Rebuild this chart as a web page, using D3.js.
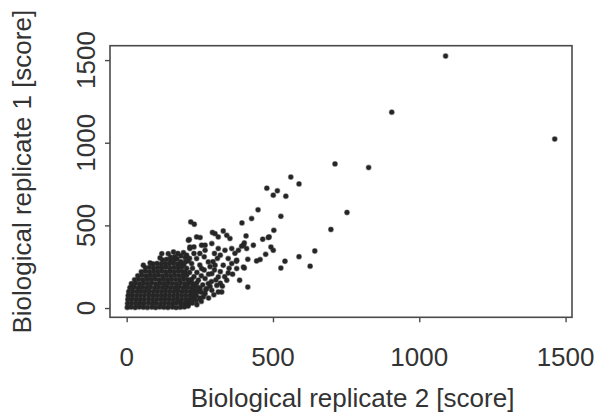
<!DOCTYPE html>
<html>
<head>
<meta charset="utf-8">
<script src="https://cdn.jsdelivr.net/npm/d3@7"></script>
<style>
  html, body { margin: 0; padding: 0; background: #fff; }
  svg { display: block; }
  text { font-family: "Liberation Sans", Arial, sans-serif; fill: #333; }
</style>
</head>
<body>
<svg id="chart" width="598" height="418"></svg>
<script>
// Axis ticks
const xTicks = [0, 500, 1000, 1500];
const yTicks = [0, 500, 1000, 1500];
const xTitle = "Biological replicate 2 [score]";
const yTitle = "Biological replicate 1 [score]";

// Dense core of the cloud: [replicate 2, replicate 1]
const coreScores = [
  [2,4],[15,6],[29,3],[43,7],[57,5],[71,4],[86,6],[99,3],[113,7],[127,5],[141,4],[156,6],[169,3],[183,5],[197,7],
  [3,27],[17,30],[31,26],[45,29],[59,28],[74,31],[88,26],[101,29],[116,27],[130,30],[144,28],[158,26],[171,31],[186,27],[200,29],[213,26],
  [4,51],[18,54],[32,50],[46,53],[60,52],[75,55],[89,50],[103,53],[117,51],[131,54],[145,52],[159,50],[173,55],[187,51],[201,53],[215,50],[227,54],
  [5,75],[19,78],[33,74],[47,77],[61,76],[76,79],[90,74],[104,77],[118,75],[132,78],[146,76],[160,74],[174,79],[188,75],[202,77],[216,74],[229,78],[238,75],
  [7,99],[21,102],[35,98],[49,101],[63,100],[77,103],[91,98],[105,101],[119,99],[133,102],[147,100],[161,98],[175,103],[189,99],[203,101],[217,98],[231,102],[243,99],
  [11,123],[25,126],[39,122],[53,125],[67,124],[81,127],[95,122],[109,125],[123,123],[137,126],[151,124],[165,122],[179,127],[193,123],[207,125],[221,122],[234,126],[246,123],
  [16,147],[30,150],[44,146],[58,149],[72,148],[86,151],[100,146],[114,149],[128,147],[142,150],[156,148],[170,146],[184,151],[198,147],[212,149],[226,146],[239,150],
  [27,171],[41,174],[55,170],[69,173],[83,172],[97,175],[111,170],[125,173],[139,171],[153,174],[167,172],[181,170],[195,175],[209,171],[222,173],
  [38,195],[52,198],[66,194],[80,197],[94,196],[108,199],[122,194],[136,197],[150,195],[164,198],[178,196],[192,194],[205,198],
  [50,219],[64,222],[78,218],[92,221],[106,220],[120,223],[134,218],[148,221],[162,219],[176,222],[190,220],[200,218],
  [64,243],[78,246],[92,242],[106,245],[120,244],[134,247],[148,242],[162,245],[176,243],[188,246],
  [90,267],[104,270],[118,266],[132,269],[146,268],[160,271],[174,266],[184,269],
  [122,291],[136,294],[150,290],[164,293],[172,297],
  [150,308],[165,311]
];

// Speckled fringe around the core
const fringeScores = [
  [57,259],[80,273],[114,303],[120,329],[142,329],[160,339],[194,335],[211,410],[216,360],[239,430],[256,380],[268,349],
  [291,390],[313,360],[336,349],[359,360],[370,331],[347,299],[359,269],[376,239],[362,205],[342,168],[327,132],
  [313,97],[325,97],[291,107],[268,87],[262,67],[302,259],[279,279],[256,239],[239,299],[222,269],[291,208],
  [268,178],[313,188],[330,259],[245,168],[279,148],[251,117],[228,87],[205,47],[182,36],[240,20],[255,40],[230,60],
  [219,521],[231,507],[214,414],[251,426],[268,380],[216,369],[399,380],[410,360],[376,289],[399,248],
  [347,212],[386,168],[273,117],[285,131],[308,137],
  [293,457],[302,450],[313,430],[330,466],[342,440],[353,420],
  [408,436],[487,430],[465,416],[402,394],[433,380],[393,374],[382,349],[493,369],[501,349],[475,325],
  [456,293],[444,285],[414,295],[375,283],[402,242],[414,127],[484,426],[503,470],
  [449,594],[427,541],[394,515],[479,725],[515,709],[501,683],
  [210,12],[225,30],[238,45],[250,60],[205,140],[218,160],[230,190],[215,215],[205,240],[195,260],
  [210,285],[225,240],[240,215],[255,195],[250,260],[265,230],[280,205],[285,250],[300,230],[295,280],
  [310,300],[320,220],[305,170],[290,160],[260,140],[270,110],[255,95],[280,60],[298,80],[320,150],
  [335,190],[350,240],[320,320],[300,330],[265,310],[250,330],[175,330],[185,315],[200,305],[205,320],
  [230,330],[230,370],[185,280],[200,278],[215,300]
];

// Isolated high-score points
const outlierScores = [
  [527,242],[541,283],[627,253],[589,311],[643,345],[698,475],[753,578],[527,555],
  [544,677],[589,751],[561,792],[712,872],[827,850],[906,1185],[1090,1524],[1463,1022]
];

const allScores = coreScores.concat(fringeScores, outlierScores);

const svg = d3.select("#chart");
const box = { left: 110, right: 572, top: 45.7, bottom: 317.3 };

const x = d3.scaleLinear().domain([-57, 1522]).range([box.left, box.right]);
const y = d3.scaleLinear().domain([-56, 1587]).range([box.bottom, box.top]);

// points
svg.append("g")
  .selectAll("circle")
  .data(allScores)
  .join("circle")
  .attr("cx", d => x(d[0]))
  .attr("cy", d => y(d[1]))
  .attr("r", 2.4)
  .attr("fill", "#262626")
  .attr("stroke", "rgba(40,40,40,0.45)")
  .attr("stroke-width", 1.2);

// frame
svg.append("rect")
  .attr("x", box.left).attr("y", box.top)
  .attr("width", box.right - box.left).attr("height", box.bottom - box.top)
  .attr("fill", "none").attr("stroke", "#4a4a4a").attr("stroke-width", 1.6);

// axes (ticks only, labels drawn separately to mimic R)
const xAxis = svg.append("g")
  .attr("transform", `translate(0,${box.bottom})`)
  .call(d3.axisBottom(x).tickValues(xTicks).tickSize(5).tickFormat(""));
xAxis.select(".domain").remove();
xAxis.selectAll("line").attr("stroke", "#4a4a4a").attr("stroke-width", 1.4);

const yAxis = svg.append("g")
  .attr("transform", `translate(${box.left},0)`)
  .call(d3.axisLeft(y).tickValues(yTicks).tickSize(5).tickFormat(""));
yAxis.select(".domain").remove();
yAxis.selectAll("line").attr("stroke", "#4a4a4a").attr("stroke-width", 1.4);

// tick labels
svg.append("g").selectAll("text")
  .data(xTicks)
  .join("text")
  .attr("x", d => x(d))
  .attr("y", 366)
  .attr("text-anchor", "middle")
  .attr("font-size", 26)
  .text(d => d);

svg.append("g").selectAll("text")
  .data(yTicks)
  .join("text")
  .attr("transform", d => `translate(94.5,${y(d)}) rotate(-90)`)
  .attr("text-anchor", "middle")
  .attr("font-size", 26)
  .text(d => d);

// axis titles
svg.append("text")
  .attr("x", 352.5)
  .attr("y", 407)
  .attr("text-anchor", "middle")
  .attr("font-size", 26)
  .text(xTitle);

svg.append("text")
  .attr("transform", "translate(30.5,171.7) rotate(-90)")
  .attr("text-anchor", "middle")
  .attr("font-size", 26)
  .text(yTitle);
</script>
</body>
</html>
